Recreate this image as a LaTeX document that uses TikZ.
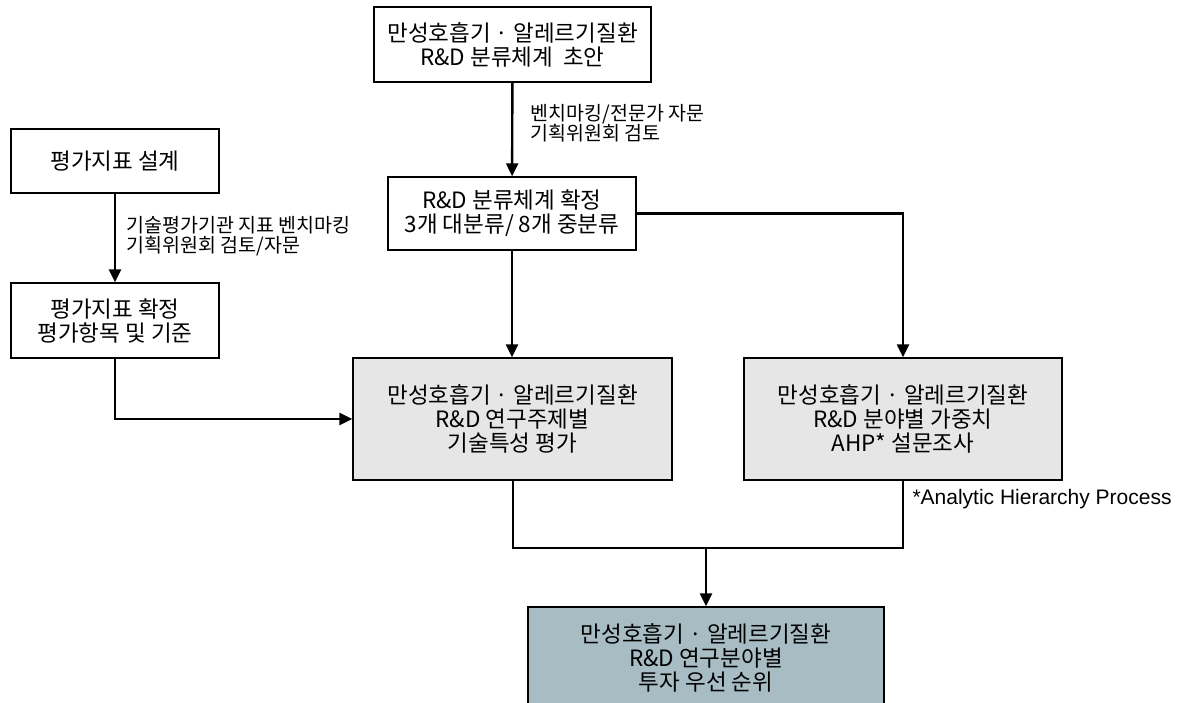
\documentclass[tikz,border=0pt]{standalone}
\usepackage{fontspec}
\setmainfont{Noto Sans CJK KR}
\newfontfamily\arialfont{Liberation Sans}
\usetikzlibrary{arrows.meta,positioning}
\definecolor{boxgray}{HTML}{E6E6E6}
\definecolor{rankteal}{HTML}{A7BDC3}

\begin{document}
\begin{tikzpicture}[x=1pt,y=-1pt,
  box/.style={draw, line width=1.4pt, fill=white, align=center, inner sep=0pt,
    font=\fontsize{22.5}{24}\selectfont},
  graybox/.style={box, fill=boxgray},
  rankbox/.style={box, fill=rankteal},
  note/.style={anchor=west, align=left, font=\fontsize{19.5}{20}\selectfont},
  flow/.style={line width=2.4pt, -{Triangle[width=12pt,length=13pt]}},
  joinline/.style={line width=2pt}]
  \useasboundingbox (0,0) rectangle (1181,703);
  \clip (0,0) rectangle (1181,703);

  \node[box, minimum width=277, minimum height=75] (draft) at (512.5,44.5)
    {만성호흡기 · 알레르기질환\\R\&D 분류체계\ \ 초안};
  \node[box, minimum width=248, minimum height=73] (fix) at (512,213.5)
    {R\&D 분류체계 확정\\3개 대분류/ 8개 중분류};
  \node[box, minimum width=208, minimum height=64] (design) at (115,161)
    {평가지표 설계};
  \node[box, minimum width=208, minimum height=75] (idx) at (115,320.5)
    {평가지표 확정\\평가항목 및 기준};
  \node[graybox, minimum width=319, minimum height=122] (eval) at (512.5,419)
    {만성호흡기 · 알레르기질환\\R\&D 연구주제별\\기술특성 평가};
  \node[graybox, minimum width=318, minimum height=122] (ahp) at (903,419)
    {만성호흡기 · 알레르기질환\\R\&D 분야별 가중치\\AHP* 설문조사};
  \node[rankbox, minimum width=356, minimum height=102] (rank) at (706,658)
    {만성호흡기 · 알레르기질환\\R\&D 연구분야별\\투자 우선 순위};
  \node[anchor=west, font=\arialfont\fontsize{21}{24}\selectfont] (ahpnote) at (909,499)
    {*Analytic Hierarchy Process};

  \draw[flow] (draft) -- node[note, pos=0.43, xshift=14pt] {벤치마킹/전문가 자문\\기획위원회 검토} (fix);
  \draw[flow] (design) -- node[note, pos=0.48, xshift=7pt] {기술평가기관 지표 벤치마킹\\기획위원회 검토/자문} (idx);
  \draw[flow] (fix.south) -- (fix.south |- eval.north);
  \draw[flow] (fix.east) -| (ahp.north);
  \draw[flow] (idx.south) |- (eval.west);

  \coordinate (merge) at (706,548);
  \draw[joinline] (eval.south) |- (merge) -| (ahp.south);
  \draw[flow] (merge) -- (rank.north);
\end{tikzpicture}
\end{document}
